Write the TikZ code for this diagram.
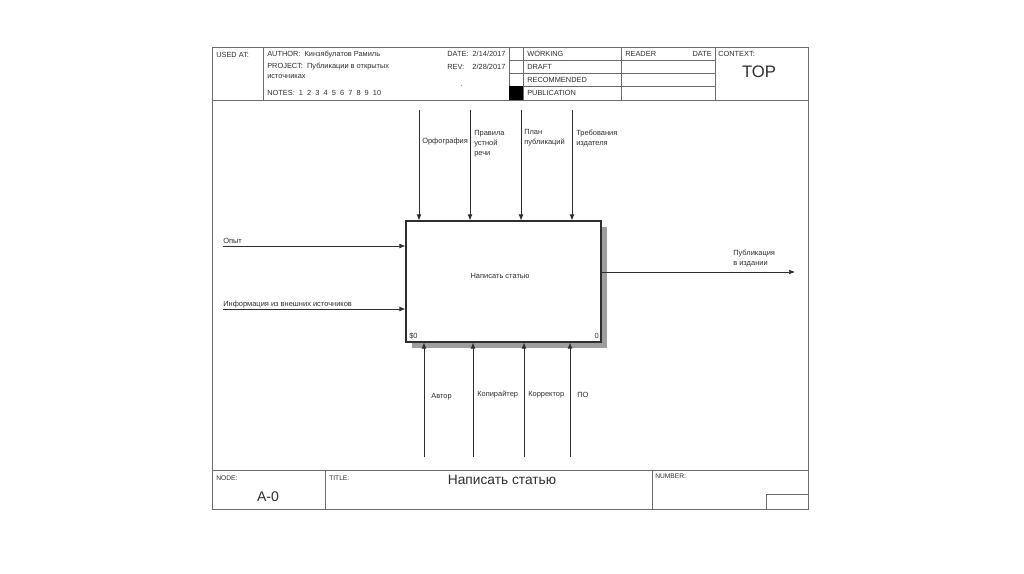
\documentclass[tikz,border=0pt]{standalone}
\usepackage{fontspec}
\setmainfont{Liberation Sans}
\usetikzlibrary{arrows.meta,shadows}
\definecolor{frm}{gray}{0.42}
\definecolor{ink}{gray}{0.18}
\definecolor{shd}{gray}{0.62}
\tikzset{
  frame/.style={draw=frm, line width=0.6pt},
  arr/.style={draw=ink, line width=0.55pt, -{Latex[length=4.5pt,width=3.6pt]}},
  lbl/.style={inner sep=0pt, text=ink, font=\fontsize{5.6}{7.5}\selectfont, align=left},
  hdr/.style={inner sep=0pt, text=ink, font=\fontsize{5.55}{7}\selectfont, anchor=west},
  tiny/.style={inner sep=0pt, text=ink, font=\fontsize{5}{6}\selectfont, anchor=west},
  funcbox/.style={draw=ink, line width=0.8pt, fill=white, minimum width=146.25pt, minimum height=90.75pt, inner sep=0pt,
     drop shadow={shadow xshift=4.5pt, shadow yshift=-4.5pt, fill=shd, opacity=1}}
}
\begin{document}
\begin{tikzpicture}[x=0.75pt,y=-0.75pt]
\useasboundingbox (0,0) rectangle (1024,574);
% outer frame
\draw[frame] (212,47) rectangle (808,509);
% header
\draw[frame] (212,100) -- (808,100);
\draw[frame] (263,47) -- (263,100);
\draw[frame] (509,47) -- (509,100);
\draw[frame] (523,47) -- (523,100);
\draw[frame] (621,47) -- (621,100);
\draw[frame] (715,47) -- (715,100);
\draw[frame] (509,60) -- (715,60);
\draw[frame] (509,73) -- (715,73);
\draw[frame] (509,86) -- (715,86);
\fill[black] (509,86) rectangle (523,100);
\node[hdr] (usedat) at (216,55) {USED AT:};
\node[hdr] (author) at (267,55) {AUTHOR:\ \ Кинзябулатов Рамиль};
\node[hdr] (project) at (267,67) {PROJECT:\ \ Публикации в открытых};
\node[hdr] (project2) at (267,77) {источниках};
\node[hdr] (notes) at (267,93) {NOTES:\ \ 1\ \ 2\ \ 3\ \ 4\ \ 5\ \ 6\ \ 7\ \ 8\ \ 9\ \ 10};
\node[hdr] (date) at (447,54) {DATE:\ \ 2/14/2017};
\node[hdr] (rev) at (447,67) {REV:\ \ \ \ 2/28/2017};
\node[hdr] (dot) at (460,86) {.};
\node[hdr] (working) at (527,53.5) {WORKING};
\node[hdr] (draft) at (527,66.5) {DRAFT};
\node[hdr] (recom) at (527,79.5) {RECOMMENDED};
\node[hdr] (publ) at (527,92.5) {PUBLICATION};
\node[hdr] (reader) at (625,53.5) {READER};
\node[hdr, anchor=east] (rdate) at (712,53.5) {DATE};
\node[hdr] (context) at (718,53.5) {CONTEXT:};
\node[inner sep=0pt, text=ink, font=\fontsize{12.5}{14}\selectfont] (top) at (759,72) {TOP};
% footer
\draw[frame] (212,470) -- (808,470);
\draw[frame] (325,470) -- (325,509);
\draw[frame] (652,470) -- (652,509);
\draw[frame] (766,509) -- (766,494) -- (808,494);
\node[tiny] (nodelbl) at (216,478) {NODE:};
\node[tiny] (titlelbl) at (329,478) {TITLE:};
\node[tiny] (numlbl) at (655,476) {NUMBER:};
\node[inner sep=0pt, text=ink, font=\fontsize{10.5}{12}\selectfont] (nodenum) at (268,497) {A-0};
\node[inner sep=0pt, text=ink, font=\fontsize{10.3}{12}\selectfont] (title) at (502,480) {Написать статью};
% function box
\node[funcbox] (A0) at (503.5,281.5) {};
\node[lbl] (boxtext) at (500,276) {Написать статью};
\node[lbl, anchor=west] (num0) at (409,336) {\$0};
\node[lbl, anchor=east] (num1) at (599,336) {0};
% controls
\coordinate (c1) at (419,110);
\coordinate (c2) at (470,110);
\coordinate (c3) at (521,110);
\coordinate (c4) at (572,110);
\draw[arr] (c1) -- (c1 |- A0.north);
\draw[arr] (c2) -- (c2 |- A0.north);
\draw[arr] (c3) -- (c3 |- A0.north);
\draw[arr] (c4) -- (c4 |- A0.north);
\node[lbl, anchor=west] (l1) at (422,142) {Орфография};
\node[lbl, anchor=west] (l2) at (474,144) {Правила\\устной\\речи};
\node[lbl, anchor=west] (l3) at (524,138) {План\\публикаций};
\node[lbl, anchor=west] (l4) at (576,139) {Требования\\издателя};
% inputs
\coordinate (i1) at (223,246);
\coordinate (i2) at (223,309);
\draw[arr] (i1) -- (i1 -| A0.west);
\draw[arr] (i2) -- (i2 -| A0.west);
\node[lbl, anchor=west] (li1) at (223,241) {Опыт};
\node[lbl, anchor=west] (li2) at (223,305) {Информация из внешних источников};
% output
\coordinate (o1) at (795,272);
\draw[arr] (o1 -| A0.east) -- (o1);
\node[lbl, anchor=west] (lo1) at (733,258.5) {Публикация\\в издании};
% mechanisms
\coordinate (m1) at (424,457);
\coordinate (m2) at (473,457);
\coordinate (m3) at (524,457);
\coordinate (m4) at (570,457);
\draw[arr] (m1) -- (m1 |- A0.south);
\draw[arr] (m2) -- (m2 |- A0.south);
\draw[arr] (m3) -- (m3 |- A0.south);
\draw[arr] (m4) -- (m4 |- A0.south);
\node[lbl, anchor=west] (lm1) at (431,397) {Автор};
\node[lbl, anchor=west] (lm2) at (477,395) {Копирайтер};
\node[lbl, anchor=west] (lm3) at (528,395) {Корректор};
\node[lbl, anchor=west] (lm4) at (577,395) {ПО};
\end{tikzpicture}
\end{document}
